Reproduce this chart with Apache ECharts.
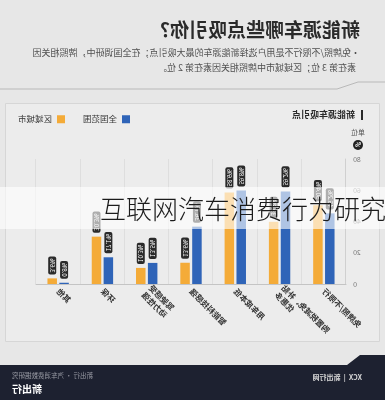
<!DOCTYPE html>
<html>
<head>
<meta charset="utf-8">
<script src="https://cdn.jsdelivr.net/npm/echarts@6/dist/echarts.min.js"></script>
<style>
html,body{margin:0;padding:0;background:#e7e7e7;}
#wrap{position:relative;width:385px;height:400px;overflow:hidden;}
#main{width:385px;height:400px;transform:scaleX(-1);}
#band{position:absolute;left:0;top:187px;width:385px;height:42px;background:rgba(255,255,255,0.62);}
#band span{position:absolute;left:100px;top:0;line-height:42px;font-size:26px;color:#1c1c1c;white-space:nowrap;font-family:"Noto Sans CJK SC";font-weight:300;}
</style>
</head>
<body>
<div id="wrap">
	<div id="main"></div>
	<div id="band"><span>互联网汽车消费行为研究</span></div>
</div>
<script>
// 新能源车吸引点 (单位 %)
var categories = ['免牌照/不限行', '购置税减免、补贴\n优惠多', '用车成本低', '智能科技感强', '驾驶感受\n动力性强', '环保', '其他'];
var nationalValues = [45.2, 59.2, 59.8, 36.7, 13.5, 17.1, 0.8];   // 全国范围
var regionalValues = [50.4, 39.8, 58.6, 13.6, 10.3, 30.3, 3.6];   // 区域城市
var seriesNames = ['全国范围', '区域城市'];

var chart = echarts.init(document.getElementById('main'));

function pinLabel(){
	return {
		show: true,
		position: 'top',
		rotate: 90,
		align: 'left',
		verticalAlign: 'middle',
		distance: 4,
		fontSize: 6,
		color: '#fff',
		backgroundColor: '#2a2a2a',
		borderRadius: 2,
		padding: [1, 2],
		formatter: function(p){ return p.value.toFixed(1) + '%'; }
	};
}

var option = {
	backgroundColor: '#e7e7e7',
	textStyle: {fontFamily: 'Noto Sans CJK SC'},
	animation: false,
	graphic: [
		{type: 'text', x: 25, y: 30, style: {text: '新能源车哪些点吸引你？', font: 'bold 19px "Noto Sans CJK SC"', fill: '#2a2a2a', verticalAlign: 'middle'}},
		{type: 'text', x: 25, y: 45, style: {text: '·免牌照/不限行不是用户选择新能源车的最大吸引点；在全国调研中，牌照相关因\n  素在第 3 位；区域城市中牌照相关因素在第 2 位。', font: '9px "Noto Sans CJK SC"', fill: '#505050', lineHeight: 15, verticalAlign: 'top'}},
		{type: 'polyline', shape: {points: [[0, 82], [27, 82], [48, 89], [385, 89]]}, style: {stroke: '#b9b9b9', lineWidth: 1, fill: null}},
		{type: 'rect', shape: {x: 5.5, y: 103.5, width: 374, height: 238}, style: {fill: '#ececec', stroke: '#d6d6d6', lineWidth: 1}, z: -1},
		{type: 'rect', shape: {x: 22, y: 110, width: 2, height: 10}, style: {fill: '#2a2a2a'}},
		{type: 'text', x: 30, y: 115, style: {text: '新能源车吸引点', font: 'bold 9px "Noto Sans CJK SC"', fill: '#2a2a2a', verticalAlign: 'middle'}},
		{type: 'text', x: 27, y: 132, style: {text: '单位', font: '7px "Noto Sans CJK SC"', fill: '#555', align: 'center', verticalAlign: 'middle'}},
		{type: 'circle', shape: {cx: 27, cy: 145, r: 5}, style: {fill: '#222'}},
		{type: 'text', x: 27, y: 145, style: {text: '%', font: 'bold 6px "Noto Sans CJK SC"', fill: '#fff', align: 'center', verticalAlign: 'middle'}},
		{type: 'polygon', shape: {points: [[0, 355], [25, 355], [38, 365], [385, 365], [385, 400], [0, 400]]}, style: {fill: '#1d2130'}},
		{type: 'text', x: 23, y: 377, style: {text: 'XCX  |  新出行网', font: 'bold 7px "Noto Sans CJK SC"', fill: '#d8d8d8', verticalAlign: 'middle'}},
		{type: 'text', x: 373, y: 376, style: {text: '新出行 · 汽车消费数据研究', font: '6.5px "Noto Sans CJK SC"', fill: '#9a9ca5', align: 'right', verticalAlign: 'middle'}},
		{type: 'text', x: 373, y: 389, style: {text: '新出行', font: 'bold 10px "Noto Sans CJK SC"', fill: '#fff', align: 'right', verticalAlign: 'middle'}}
	],
	legend: {
		right: 13,
		top: 110,
		itemWidth: 8,
		itemHeight: 8,
		itemGap: 18,
		icon: 'rect',
		textStyle: {fontSize: 8.5, color: '#333'},
		data: seriesNames
	},
	grid: {left: 39, right: 36, top: 159, bottom: 116},
	xAxis: {
		type: 'category',
		data: categories,
		axisLine: {lineStyle: {color: '#c4c4c4'}},
		axisTick: {show: false},
		splitLine: {show: true, lineStyle: {color: '#dedede'}},
		axisLabel: {rotate: 45, fontSize: 8, color: '#333', fontWeight: 'bold', margin: 6, interval: 0, lineHeight: 10}
	},
	yAxis: {
		type: 'value',
		min: 0,
		max: 80,
		interval: 20,
		axisLine: {show: true, lineStyle: {color: '#d0d0d0'}},
		axisTick: {show: false},
		splitLine: {show: false},
		axisLabel: {fontSize: 7, color: '#777', margin: 7}
	},
	series: [
		{name: seriesNames[0], type: 'bar', data: nationalValues, barWidth: 9.5, barGap: '25%', itemStyle: {color: '#2f64b8'}, label: pinLabel()},
		{name: seriesNames[1], type: 'bar', data: regionalValues, barWidth: 9.5, barGap: '25%', itemStyle: {color: '#f4ab38'}, label: pinLabel()}
	]
};
chart.setOption(option);
</script>
</body>
</html>
